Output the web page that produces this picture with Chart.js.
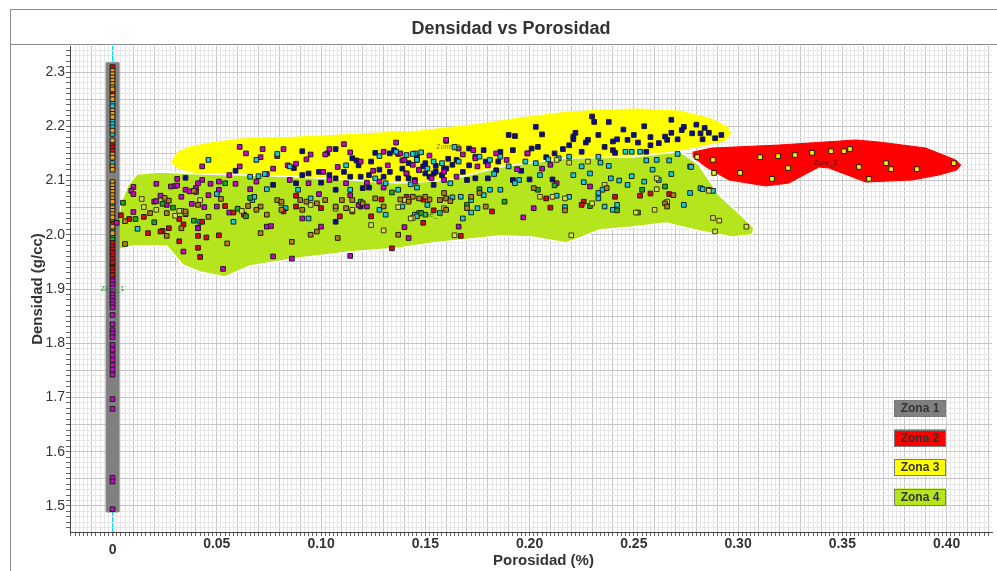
<!DOCTYPE html>
<html>
<head>
<meta charset="utf-8">
<title>Densidad vs Porosidad</title>
<script src="https://cdn.jsdelivr.net/npm/chart.js@4.4.1/dist/chart.umd.min.js"></script>
<style>
  html, body { margin: 0; padding: 0; background: #fff; }
  #wrap { width: 997px; height: 571px; }
</style>
</head>
<body>
<div id="wrap"><canvas id="chart" width="997" height="571"></canvas></div>
<script>
// zone outlines (porosidad, densidad)
const zone1X = [-0.0031, 0.0030, 0.0030, -0.0031];
const zone1Y = [2.317, 2.317, 1.489, 1.489];
const zone2X = [0.2785, 0.2875, 0.3196, 0.3565, 0.3675, 0.3900, 0.4044, 0.4068, 0.4049, 0.3963, 0.3833, 0.3613, 0.3436, 0.3388, 0.3244, 0.3134, 0.2957, 0.2847, 0.2785];
const zone2Y = [2.1525, 2.1599, 2.1654, 2.1747, 2.1710, 2.1599, 2.1378, 2.1286, 2.1194, 2.1101, 2.1009, 2.0972, 2.1230, 2.1249, 2.0954, 2.0899, 2.1009, 2.1249, 2.1433];
const zone3X = [0.0284, 0.0313, 0.0371, 0.0466, 0.0610, 0.0897, 0.1185, 0.1472, 0.1760, 0.1951, 0.2143, 0.2334, 0.2526, 0.2718, 0.2861, 0.2948, 0.2967, 0.2933, 0.2838, 0.2718, 0.2526, 0.2334, 0.2047, 0.1760, 0.1472, 0.1185, 0.0897, 0.0610, 0.0419, 0.0313];
const zone3Y = [2.1341, 2.1525, 2.1618, 2.1691, 2.1765, 2.1802, 2.1857, 2.1912, 2.2041, 2.2152, 2.2244, 2.2300, 2.2318, 2.2281, 2.2152, 2.1986, 2.1876, 2.1728, 2.1654, 2.1562, 2.1378, 2.1286, 2.1194, 2.1046, 2.0954, 2.0954, 2.1009, 2.1065, 2.1120, 2.1230];
const zone4X = [0.0117, 0.0227, 0.0419, 0.0658, 0.0897, 0.1137, 0.1377, 0.1616, 0.1856, 0.2176, 0.2492, 0.2655, 0.2727, 0.2813, 0.2909, 0.3029, 0.3077, 0.3067, 0.2971, 0.2813, 0.2655, 0.2492, 0.2334, 0.2253, 0.2176, 0.2013, 0.1856, 0.1535, 0.1377, 0.1137, 0.0897, 0.0658, 0.0539, 0.0419, 0.0337, 0.0260, 0.0098, 0.0026, 0.0026, 0.0045, 0.0074];
const zone4Y = [2.1120, 2.1157, 2.1120, 2.1101, 2.1065, 2.1009, 2.0954, 2.1009, 2.1249, 2.1415, 2.1433, 2.1507, 2.1525, 2.1286, 2.0733, 2.0309, 2.0124, 1.9995, 1.9959, 2.0069, 2.0217, 2.0143, 2.0088, 1.9959, 1.9848, 1.9959, 1.9977, 1.9848, 1.9756, 1.9682, 1.9571, 1.9424, 1.9221, 1.9313, 1.9442, 1.9793, 1.9793, 1.9719, 2.0272, 2.0641, 2.0917];

const zoneNames = ['Zona 1', 'Zona 2', 'Zona 3', 'Zona 4'];
const zoneColors = ['#808080', '#ff0000', '#ffff00', '#b5e61d'];
const zoneTags = ['Zone_1', 'Zone_2', 'Zone_3', 'Zone_4'];
const zoneTagX = [0, 0.342, 0.161, 0.152];
const zoneTagY = [1.900, 2.132, 2.162, 2.036];
const tagColors = ['#2f8f2f', '#5a0000', '#7a7a00', '#3f7f00'];

// samples on the zero-porosity column, by colour
const colOrangeY = [2.302, 2.296, 2.290, 2.284, 2.278, 2.272, 2.268, 2.256, 2.250, 2.229, 2.223, 2.217, 2.192, 2.174, 2.148, 2.142, 2.126, 2.120, 2.097, 2.091, 2.085, 2.079, 2.073, 2.067, 2.061, 2.050, 2.044, 2.038, 2.032, 2.015, 2.003];
const colRedY = [2.309, 2.262, 2.168, 2.161, 2.155, 2.020, 1.985, 1.979, 1.973, 1.967, 1.961, 1.955, 1.949, 1.938, 1.932, 1.926];
const colCyanY = [2.243, 2.237, 2.210, 2.204, 2.198, 2.186, 2.132, 2.056];
const colGreenY = [2.026, 2.009, 1.997, 1.991];
const colBlackY = [1.944];
const colMagentaY = [1.920, 1.914, 1.908, 1.902, 1.896, 1.890, 1.884, 1.878, 1.872, 1.866, 1.852, 1.835, 1.824, 1.818, 1.811, 1.797, 1.788, 1.778, 1.769, 1.760, 1.751, 1.742, 1.697, 1.679, 1.552, 1.545, 1.494];

// cloud samples [porosidad, densidad]
const ptsBlue = [[0.203,2.199],[0.206,2.185],[0.222,2.188],[0.230,2.218],[0.231,2.208],[0.238,2.208],[0.255,2.200],[0.268,2.212],[0.274,2.199],[0.273,2.193],[0.280,2.203],[0.284,2.197],[0.286,2.188],[0.282,2.187],[0.278,2.187],[0.292,2.184],[0.289,2.178],[0.283,2.176],[0.268,2.188],[0.265,2.181],[0.262,2.169],[0.258,2.180],[0.250,2.184],[0.247,2.175],[0.245,2.194],[0.242,2.176],[0.240,2.172],[0.233,2.184],[0.228,2.175],[0.227,2.170],[0.221,2.181],[0.219,2.165],[0.221,2.176],[0.225,2.153],[0.240,2.156],[0.241,2.151],[0.256,2.153],[0.258,2.165],[0.266,2.175],[0.271,2.176],[0.212,2.150],[0.204,2.162],[0.201,2.159],[0.199,2.150],[0.193,2.182],[0.190,2.184],[0.192,2.156],[0.178,2.156],[0.186,2.153],[0.171,2.159],[0.174,2.144],[0.179,2.135],[0.165,2.138],[0.163,2.129],[0.159,2.122],[0.154,2.113],[0.184,2.119],[0.174,2.104],[0.180,2.104],[0.192,2.101],[0.200,2.102],[0.211,2.102],[0.168,2.116],[0.170,2.101],[0.154,2.092],[0.091,2.154],[0.107,2.158],[0.103,2.150],[0.115,2.141],[0.117,2.137],[0.126,2.151],[0.133,2.150],[0.135,2.156],[0.146,2.143],[0.142,2.132],[0.149,2.126],[0.150,2.132],[0.155,2.127],[0.160,2.122],[0.059,2.118],[0.087,2.123],[0.091,2.110],[0.094,2.113],[0.099,2.116],[0.104,2.110],[0.107,2.104],[0.111,2.116],[0.114,2.107],[0.119,2.107],[0.123,2.110],[0.128,2.120],[0.130,2.107],[0.133,2.116],[0.137,2.104],[0.141,2.113],[0.145,2.101],[0.147,2.120],[0.152,2.107],[0.155,2.116],[0.035,2.105],[0.077,2.092],[0.088,2.095],[0.100,2.096],[0.107,2.083],[0.120,2.086],[0.123,2.087],[0.107,2.024],[0.119,2.052],[0.142,2.104],[0.150,2.113],[0.158,2.110],[0.118,2.128],[0.124,2.135],[0.139,2.122],[0.161,2.140],[0.171,2.128],[0.185,2.135],[0.196,2.118],[0.208,2.143],[0.216,2.158],[0.236,2.162],[0.252,2.170]];
const ptsMagenta = [[0.061,2.162],[0.072,2.158],[0.082,2.158],[0.079,2.145],[0.095,2.148],[0.102,2.148],[0.104,2.158],[0.111,2.167],[0.114,2.152],[0.119,2.135],[0.130,2.153],[0.136,2.170],[0.137,2.149],[0.139,2.137],[0.146,2.138],[0.160,2.173],[0.159,2.116],[0.043,2.126],[0.061,2.126],[0.071,2.143],[0.084,2.128],[0.088,2.131],[0.093,2.139],[0.077,2.122],[0.074,2.112],[0.031,2.103],[0.043,2.101],[0.047,2.094],[0.051,2.098],[0.028,2.089],[0.030,2.090],[0.035,2.083],[0.037,2.080],[0.040,2.086],[0.046,2.073],[0.051,2.083],[0.059,2.094],[0.066,2.084],[0.023,2.072],[0.020,2.061],[0.026,2.055],[0.044,2.051],[0.050,2.052],[0.056,2.041],[0.041,2.013],[0.074,2.015],[0.076,2.016],[0.091,2.030],[0.100,2.015],[0.085,2.101],[0.099,2.075],[0.114,2.073],[0.118,2.055],[0.122,2.052],[0.130,2.087],[0.142,1.994],[0.034,1.969],[0.077,1.960],[0.086,1.956],[0.114,1.961],[0.104,2.101],[0.112,2.095],[0.122,2.096],[0.128,2.098],[0.101,2.116],[0.160,2.175],[0.138,2.150],[0.140,2.138],[0.144,2.129],[0.166,2.159],[0.173,2.156],[0.175,2.126],[0.184,2.150],[0.189,2.138],[0.194,2.121],[0.199,2.150],[0.165,2.107],[0.159,2.101],[0.153,2.104],[0.147,2.119],[0.202,2.049],[0.197,2.032],[0.166,2.015],[0.229,2.089],[0.213,2.095],[0.206,2.122],[0.210,2.129],[0.174,2.141],[0.141,2.113],[0.145,2.098],[0.010,2.088],[0.009,2.081],[0.010,2.075],[0.021,2.094],[0.031,2.091],[0.033,2.070],[0.021,2.062],[0.038,2.057],[0.010,2.042],[0.035,2.038],[0.040,2.079],[0.041,2.012],[0.002,2.022],[0.041,2.095],[0.053,1.937],[0.140,2.014],[0.108,2.125],[0.125,2.118],[0.132,2.128],[0.152,2.146],[0.168,2.148],[0.180,2.128],[0.094,2.095],[0.069,2.098],[0.056,2.110],[0.064,2.150]];
const ptsRed = [[0.017,2.003],[0.024,2.007],[0.032,2.029],[0.041,1.998],[0.015,2.033],[0.004,2.036],[0.008,2.029],[0.032,1.988],[0.041,1.976],[0.054,2.053],[0.058,2.041],[0.063,2.037],[0.043,2.024],[0.034,2.019],[0.027,2.012],[0.023,2.006],[0.045,1.995],[0.051,1.999],[0.042,1.959],[0.082,2.043],[0.088,2.052],[0.100,2.049],[0.109,2.034],[0.115,2.043],[0.124,2.034],[0.134,1.975],[0.149,2.022],[0.154,2.045],[0.149,2.065],[0.141,2.070],[0.129,2.065],[0.088,2.072],[0.167,1.998],[0.241,2.070],[0.253,2.072],[0.226,2.061],[0.225,2.055],[0.210,2.050],[0.208,2.067],[0.182,2.043],[0.258,2.076],[0.267,2.075]];
const ptsGreen = [[0.024,2.057],[0.029,2.050],[0.039,2.026],[0.054,2.095],[0.060,2.048],[0.064,2.034],[0.066,2.068],[0.119,2.061],[0.134,2.078],[0.148,2.040],[0.005,2.059],[0.011,2.029],[0.020,2.023],[0.212,2.091],[0.204,2.083],[0.176,2.084],[0.170,2.055],[0.229,2.053],[0.254,2.083],[0.265,2.089],[0.242,2.045],[0.188,2.061],[0.252,2.041]];
const ptsCyan = [[0.145,2.150],[0.146,2.138],[0.154,2.135],[0.151,2.122],[0.164,2.162],[0.166,2.135],[0.176,2.144],[0.181,2.138],[0.186,2.144],[0.190,2.126],[0.198,2.135],[0.203,2.132],[0.209,2.139],[0.214,2.141],[0.219,2.144],[0.225,2.126],[0.233,2.144],[0.234,2.133],[0.238,2.127],[0.246,2.153],[0.249,2.153],[0.253,2.153],[0.256,2.137],[0.261,2.138],[0.267,2.137],[0.271,2.149],[0.277,2.126],[0.221,2.110],[0.229,2.113],[0.239,2.104],[0.243,2.100],[0.249,2.108],[0.255,2.098],[0.247,2.092],[0.235,2.083],[0.233,2.067],[0.242,2.055],[0.240,2.046],[0.233,2.077],[0.219,2.070],[0.217,2.051],[0.213,2.072],[0.195,2.101],[0.193,2.095],[0.186,2.083],[0.181,2.083],[0.178,2.073],[0.172,2.064],[0.167,2.070],[0.163,2.069],[0.157,2.064],[0.151,2.055],[0.147,2.040],[0.145,2.037],[0.139,2.052],[0.175,2.049],[0.172,2.041],[0.168,2.030],[0.262,2.101],[0.282,2.086],[0.286,2.083],[0.236,2.052],[0.274,2.055],[0.046,2.138],[0.069,2.138],[0.079,2.149],[0.085,2.126],[0.128,2.145],[0.136,2.153],[0.141,2.147],[0.144,2.149],[0.148,2.152],[0.158,2.132],[0.066,2.107],[0.070,2.108],[0.073,2.112],[0.050,2.075],[0.067,2.064],[0.068,2.070],[0.074,2.084],[0.089,2.083],[0.095,2.067],[0.114,2.083],[0.131,2.095],[0.137,2.083],[0.128,2.046],[0.131,2.037],[0.146,2.034],[0.150,2.037],[0.157,2.040],[0.146,2.087],[0.083,2.049],[0.094,2.030],[0.042,2.024],[0.058,2.024],[0.012,2.011],[0.2775,2.125],[0.277,2.077],[0.283,2.084],[0.288,2.081],[0.112,2.128],[0.126,2.104],[0.143,2.093],[0.162,2.095],[0.183,2.112],[0.205,2.110],[0.226,2.097],[0.259,2.120],[0.268,2.112]];
const ptsBrown = [[0.039,2.081],[0.052,2.066],[0.027,2.063],[0.035,2.043],[0.041,2.055],[0.065,2.053],[0.071,2.052],[0.079,2.064],[0.081,2.061],[0.090,2.064],[0.093,2.061],[0.098,2.058],[0.102,2.064],[0.107,2.052],[0.110,2.064],[0.112,2.049],[0.115,2.064],[0.120,2.058],[0.126,2.067],[0.130,2.052],[0.138,2.065],[0.142,2.061],[0.152,2.065],[0.157,2.064],[0.160,2.067],[0.069,2.046],[0.074,2.037],[0.081,2.046],[0.091,2.046],[0.095,2.000],[0.098,2.006],[0.108,1.994],[0.086,1.987],[0.071,2.003],[0.055,1.984],[0.046,2.033],[0.033,2.012],[0.026,1.998],[0.018,2.040],[0.137,2.000],[0.144,2.070],[0.147,2.067],[0.150,2.070],[0.159,2.077],[0.162,2.062],[0.170,2.049],[0.172,2.070],[0.176,2.077],[0.179,2.052],[0.160,2.046],[0.202,2.086],[0.237,2.086],[0.265,2.058],[0.266,2.052],[0.269,2.073],[0.217,2.045],[0.025,2.068],[0.026,2.040],[0.006,2.025],[0.006,1.983]];
const ptsHollow = [[0.033,2.044],[0.021,2.046],[0.042,2.064],[0.107,2.048],[0.115,2.046],[0.137,2.051],[0.142,2.064],[0.144,2.031],[0.124,2.018],[0.130,2.008],[0.159,2.049],[0.219,2.133],[0.228,2.135],[0.213,2.138],[0.211,2.070],[0.205,2.070],[0.230,2.058],[0.217,2.067],[0.236,2.092],[0.261,2.084],[0.266,2.061],[0.261,2.104],[0.251,2.041],[0.260,2.046],[0.291,2.026],[0.289,2.006],[0.220,1.999],[0.164,1.999],[0.143,2.030],[0.140,2.064],[0.304,2.015],[0.014,2.066],[0.015,2.051],[0.032,2.044],[0.035,2.040],[0.030,2.035],[0.286,2.081],[0.288,2.031],[0.062,2.044],[0.081,2.058],[0.095,2.055]];
const ptsZone2 = [[0.2804,2.1433],[0.288,2.138],[0.2885,2.114],[0.301,2.114],[0.3106,2.143],[0.3163,2.103],[0.3192,2.145],[0.324,2.123],[0.3273,2.147],[0.3355,2.151],[0.3446,2.154],[0.3508,2.154],[0.3537,2.158],[0.358,2.125],[0.3628,2.103],[0.371,2.132],[0.3734,2.121],[0.3858,2.121],[0.4035,2.132]];

const FONT = '"Liberation Sans", Arial, sans-serif';

function poly(xs, ys) {
  const p = xs.map((x, i) => ({ x: x, y: ys[i] }));
  p.push(p[0]);
  return p;
}
function pairs(arr) { return arr.map(p => ({ x: p[0], y: p[1] })); }
function column(ys) { return ys.map(y => ({ x: 0, y: y })); }

function zoneSet(data, color, order, border) {
  return {
    type: 'line', data: data, fill: 'shape', tension: 0,
    backgroundColor: color, borderColor: border || color, borderWidth: border ? 1.5 : 1,
    pointRadius: 0, order: order
  };
}
function dots(data, fill, edge) {
  return {
    type: 'scatter', data: data, pointStyle: 'rect', pointRadius: 3.3,
    backgroundColor: fill, borderColor: edge || '#1c1c1c', borderWidth: 1, order: 1
  };
}

const decor = {
  id: 'decor',
  beforeDraw(chart) {
    const c = chart.ctx;
    c.save();
    c.fillStyle = '#ffffff';
    c.fillRect(0, 0, chart.width, chart.height);
    c.strokeStyle = '#8a8a8a';
    c.lineWidth = 1;
    c.beginPath();
    c.moveTo(10.5, chart.height); c.lineTo(10.5, 9.5); c.lineTo(chart.width, 9.5);
    c.moveTo(10.5, 44.5); c.lineTo(chart.width, 44.5);
    c.stroke();
    c.restore();
  },
  afterDatasetsDraw(chart) {
    const c = chart.ctx, x = chart.scales.x, y = chart.scales.y;
    c.save();
    c.font = '7px ' + FONT;
    c.textAlign = 'center';
    c.textBaseline = 'middle';
    zoneTags.forEach((t, i) => {
      c.fillStyle = tagColors[i];
      c.fillText(t, x.getPixelForValue(zoneTagX[i]), y.getPixelForValue(zoneTagY[i]));
    });
    c.restore();
  },
  afterDraw(chart) {
    const c = chart.ctx, a = chart.chartArea, x = chart.scales.x;
    c.save();
    c.textAlign = 'center';
    c.textBaseline = 'middle';
    // legend boxes
    c.font = 'bold 12px ' + FONT;
    zoneNames.forEach((n, i) => {
      const bx = a.right - 98, by = a.bottom - 132 + i * 29.5;
      c.fillStyle = zoneColors[i];
      c.fillRect(bx, by, 52, 17);
      c.strokeStyle = '#7a7a7a';
      c.lineWidth = 1;
      c.strokeRect(Math.round(bx) + 0.5, Math.round(by) + 0.5, 51, 16);
      c.fillStyle = '#333333';
      c.fillText(n, bx + 26, by + 9);
    });
    // the zero label sits lower than the others
    c.font = 'bold 14px ' + FONT;
    c.fillText('0', x.getPixelForValue(0), a.bottom + 18);
    c.restore();
  }
};

function isMult(v, step) {
  const k = v / step;
  return Math.abs(k - Math.round(k)) < 1e-6;
}

new Chart(document.getElementById('chart'), {
  type: 'scatter',
  data: {
    datasets: [
      zoneSet(poly(zone3X, zone3Y), zoneColors[2], 13),
      zoneSet(poly(zone4X, zone4Y), zoneColors[3], 12, '#ffffff'),
      zoneSet(poly(zone2X, zone2Y), zoneColors[1], 11),
      zoneSet(poly(zone1X, zone1Y), zoneColors[0], 10),
      dots(pairs(ptsBrown), '#b8800c'),
      dots(pairs(ptsHollow), '#d6e04a', '#3a3a10'),
      dots(pairs(ptsGreen), '#12b012'),
      dots(pairs(ptsRed), '#ee0000'),
      dots(pairs(ptsCyan), '#12d0e0'),
      dots(pairs(ptsMagenta), '#d000d0'),
      dots(pairs(ptsBlue), '#0a0a9c'),
      dots(pairs(ptsZone2), '#f4f400'),
      dots(column(colOrangeY), '#f0a010'),
      dots(column(colRedY), '#ee0000'),
      dots(column(colCyanY), '#12d0e0'),
      dots(column(colGreenY), '#12c012'),
      dots(column(colBlackY), '#111111'),
      dots(column(colMagentaY), '#d000d0')
    ]
  },
  options: {
    responsive: false,
    animation: false,
    events: [],
    layout: { padding: { left: 29, right: 4, top: 0, bottom: 0 } },
    plugins: {
      legend: { display: false },
      tooltip: { enabled: false },
      title: {
        display: true,
        text: 'Densidad vs Porosidad',
        color: '#333333',
        font: { family: FONT, size: 18, weight: 'bold' },
        padding: { top: 18, bottom: 6.4 }
      }
    },
    scales: {
      x: {
        type: 'linear',
        min: -0.0204,
        max: 0.4218,
        afterFit(s) { s.height = 39; },
        border: { color: '#444444', width: 1 },
        grid: {
          color: ctx => {
            const v = ctx.tick ? ctx.tick.value : 1;
            if (Math.abs(v) < 1e-9) return '#00e5f2';
            return isMult(v, 0.01) ? '#c6c6c6' : '#e6e6e6';
          },
          lineWidth: ctx => (ctx.tick && Math.abs(ctx.tick.value) < 1e-9) ? 1.5 : 1,
          tickColor: '#666666',
          tickLength: 4
        },
        ticks: {
          stepSize: 0.002,
          autoSkip: false,
          maxRotation: 0,
          minRotation: 0,
          includeBounds: false,
          padding: 0,
          color: '#333333',
          font: { family: FONT, size: 14, weight: 'bold' },
          callback: v => (isMult(v, 0.05) && Math.abs(v) > 1e-9) ? v.toFixed(2) : ''
        },
        title: {
          display: true,
          text: '\u00a0\u00a0\u00a0\u00a0\u00a0\u00a0Porosidad (%)',
          color: '#333333',
          font: { family: FONT, size: 15, weight: 'bold' },
          padding: { top: 0, bottom: 1 }
        }
      },
      y: {
        type: 'linear',
        min: 1.452,
        max: 2.348,
        afterFit(s) { s.width = 41; },
        border: { color: '#444444', width: 1 },
        grid: {
          color: ctx => (ctx.tick && isMult(ctx.tick.value, 0.05)) ? '#c6c6c6' : '#e6e6e6',
          tickColor: '#666666',
          tickLength: 4
        },
        ticks: {
          stepSize: 0.01,
          autoSkip: false,
          includeBounds: false,
          padding: 1,
          color: '#333333',
          font: { family: FONT, size: 14 },
          callback: v => isMult(v, 0.1) ? v.toFixed(1) : ''
        },
        title: {
          display: true,
          text: 'Densidad (g/cc)',
          color: '#333333',
          font: { family: FONT, size: 15, weight: 'bold' },
          padding: { top: 0, bottom: 0 }
        }
      }
    }
  },
  plugins: [decor]
});
</script>
</body>
</html>
